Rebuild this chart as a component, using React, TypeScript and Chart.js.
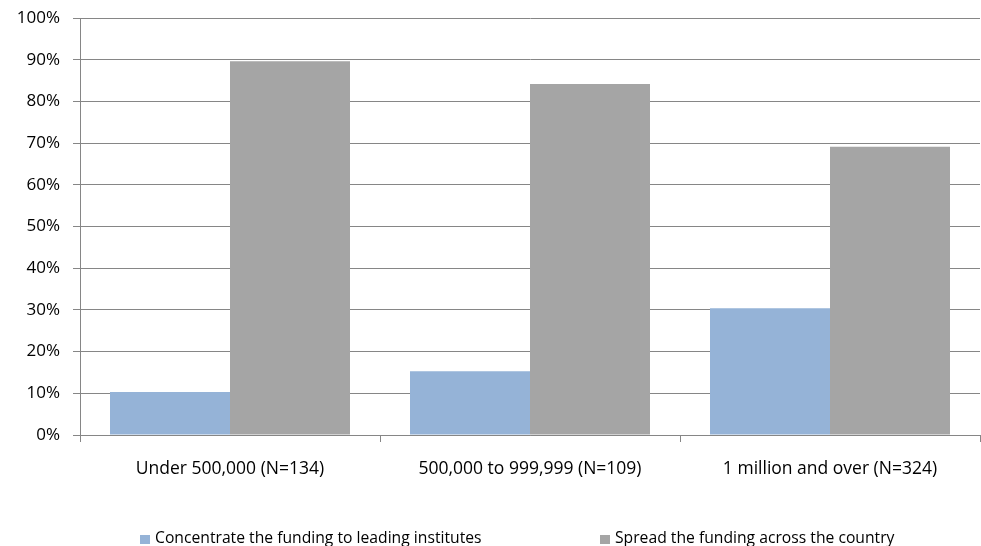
import React, { useEffect, useRef } from "react";
import { Chart, registerables } from "chart.js";

Chart.register(...registerables);

const categories = ["Under 500,000 (N=134)", "500,000 to 999,999 (N=109)", "1 million and over (N=324)"];
const seriesNames = ["Concentrate the funding to leading institutes", "Spread the funding across the country"];
const concentrateValues = [10.3, 15.3, 30.4];
const spreadValues = [89.6, 84.2, 69.1];
const seriesColors = ["#95B3D7", "#A5A5A5"];
const yTicks = [0, 10, 20, 30, 40, 50, 60, 70, 80, 90, 100];

const FONT = "'Open Sans', sans-serif";

const legendPlugin = {
  id: "customLegend",
  afterDraw(chart: any) {
    const ctx = chart.ctx;
    const starts = [140, 600];
    const y = 539;
    ctx.save();
    ctx.font = `15.7px ${FONT}`;
    ctx.textBaseline = "middle";
    ctx.textAlign = "left";
    chart.data.datasets.forEach((ds: any, i: number) => {
      const x = starts[i];
      ctx.fillStyle = ds.backgroundColor;
      ctx.fillRect(x, y - 4, 10, 9);
      ctx.fillStyle = "#000";
      ctx.fillText(ds.label, x + 15, y);
    });
    ctx.restore();
  },
};

export default function App() {
  const ref = useRef<HTMLCanvasElement>(null);
  useEffect(() => {
    document.body.style.margin = "0";
    const chart = new Chart(ref.current!, {
      type: "bar",
      data: {
        labels: categories,
        datasets: [
          { label: seriesNames[0], data: concentrateValues, backgroundColor: seriesColors[0] },
          { label: seriesNames[1], data: spreadValues, backgroundColor: seriesColors[1] },
        ],
      },
      plugins: [legendPlugin],
      options: {
        responsive: false,
        animation: false,
        layout: { padding: { top: 18, right: 1, left: 0, bottom: 0 } },
        plugins: { legend: { display: false }, tooltip: { enabled: false } },
        datasets: { bar: { categoryPercentage: 0.8, barPercentage: 1.0 } },
        scales: {
          x: {
            afterFit: (s: any) => { s.height = 111; s.paddingLeft = 0; s.paddingRight = 0; },
            grid: { offset: true, drawOnChartArea: false, tickLength: 7, color: "#868686" },
            border: { color: "#868686" },
            ticks: { color: "#000", font: { family: FONT, size: 17.5 }, padding: 17, maxRotation: 0 },
          },
          y: {
            min: 0,
            max: 100,
            afterFit: (s: any) => { s.width = 80; s.paddingTop = 0; s.paddingBottom = 0; },
            afterBuildTicks: (s: any) => { s.ticks = yTicks.map((v) => ({ value: v })); },
            grid: { color: "#868686", tickLength: 7 },
            border: { color: "#868686" },
            ticks: { color: "#000", font: { family: FONT, size: 17 }, padding: 13, callback: (v: any) => v + "%" },
          },
        },
      },
    });
    return () => chart.destroy();
  }, []);
  return (
    <div style={{ position: "absolute", left: 0, top: 0, width: 981, height: 546 }}>
      <canvas ref={ref} width={981} height={546} />
    </div>
  );
}
